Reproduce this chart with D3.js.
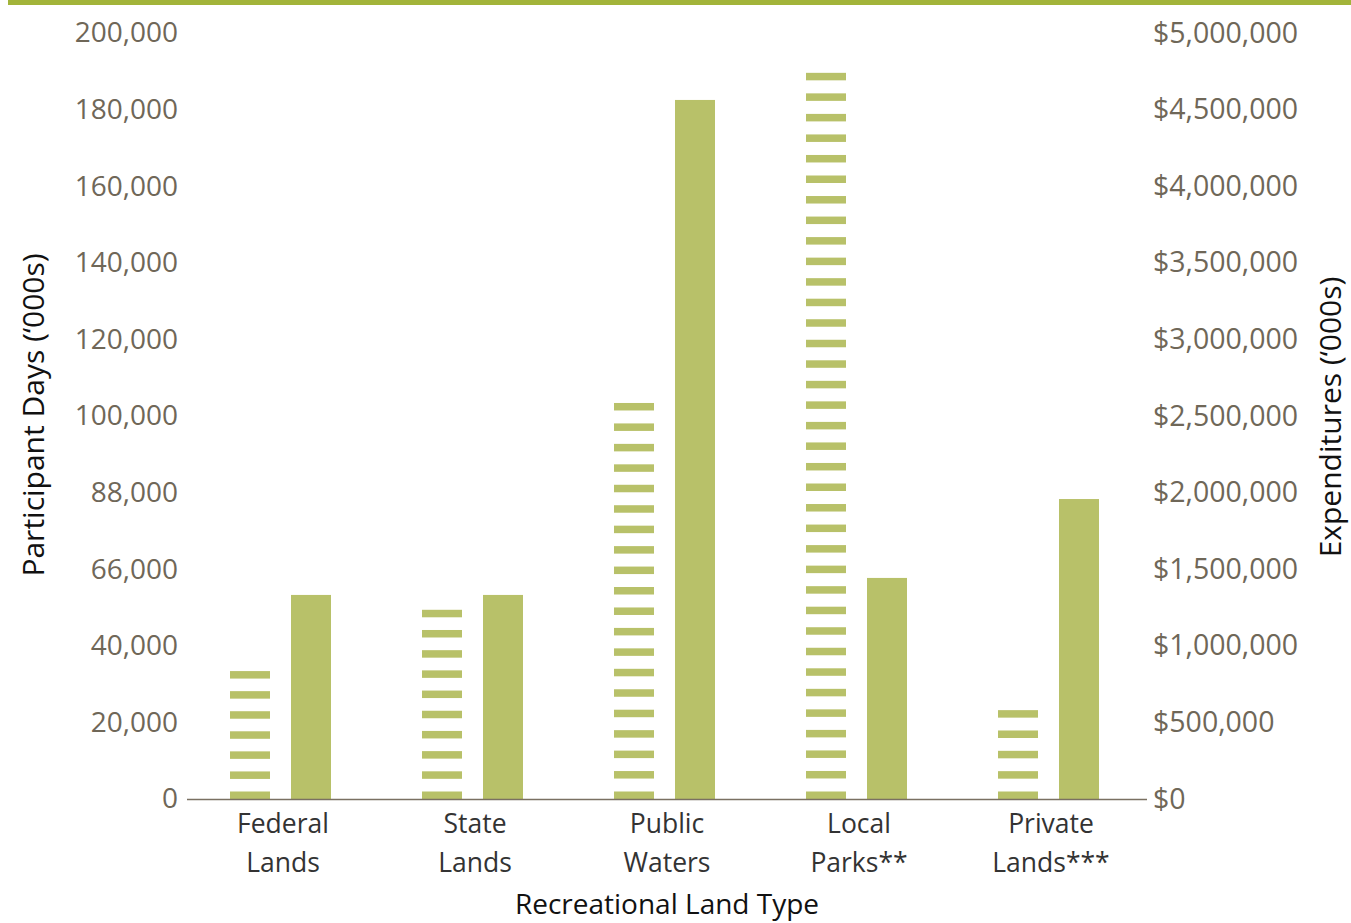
<!DOCTYPE html>
<html>
<head>
<meta charset="utf-8">
<script src="https://cdn.jsdelivr.net/npm/d3@7"></script>
<style>
  body { margin: 0; background: #fff; }
  text { font-family: "Open Sans", "Noto Sans", sans-serif; }
</style>
</head>
<body>
<div id="chart"></div>
<script>
// land types, two-line labels
const categories = ["Federal Lands", "State Lands", "Public Waters", "Local Parks**", "Private Lands***"]
const categoryLines = [["Federal", "Lands"], ["State", "Lands"], ["Public", "Waters"], ["Local", "Parks**"], ["Private", "Lands***"]]
// participant days ('000s), left axis, striped bars
const participantDays = [33400, 49400, 103400, 189600, 23200]
// expenditures ('000s), right axis, solid bars
const expenditures = [1332000, 1332000, 4563000, 1443000, 1958000]
// left axis labels as printed (evenly spaced)
const leftTickLabels = ["0", "20,000", "40,000", "66,000", "88,000", "100,000", "120,000", "140,000", "160,000", "180,000", "200,000"]
const rightTicks = [0, 500000, 1000000, 1500000, 2000000, 2500000, 3000000, 3500000, 4000000, 4500000, 5000000]

const width = 1351
const height = 923
const margin = {top: 33, right: 204, bottom: 124, left: 187}
const barColor = "#b8c169"
const tickColor = "#6f6758"

const svg = d3.select("#chart")
    .append("svg")
    .attr("width", width)
    .attr("height", height)
    .attr("viewBox", [0, 0, width, height])

const x = d3.scaleBand()
    .domain(categories)
    .range([margin.left, width - margin.right])

const yLeft = d3.scaleLinear()
    .domain([0, 200000])
    .range([height - margin.bottom, margin.top])

const yRight = d3.scaleLinear()
    .domain([0, 5000000])
    .range([height - margin.bottom, margin.top])

// tick positions of the printed left labels
const yLabel = d3.scalePoint()
    .domain(leftTickLabels)
    .range([height - margin.bottom, margin.top])

// top rule
svg.append("rect")
    .attr("x", 8)
    .attr("y", 0)
    .attr("width", width - 8)
    .attr("height", 5)
    .attr("fill", "#a2b43a")

// left axis labels
svg.append("g")
    .attr("transform", `translate(${margin.left},0)`)
    .call(d3.axisLeft(yLabel).tickSize(0).tickPadding(9))
    .call(g => g.select(".domain").remove())
    .call(g => g.selectAll("text")
        .attr("fill", tickColor)
        .attr("font-size", 28)
        .attr("font-family", "'Open Sans', sans-serif"))

// right axis labels
svg.append("g")
    .attr("transform", `translate(${width - margin.right},0)`)
    .call(d3.axisRight(yRight).tickValues(rightTicks).tickSize(0).tickPadding(6)
        .tickFormat(d => "$" + d3.format(",")(d)))
    .call(g => g.select(".domain").remove())
    .call(g => g.selectAll("text")
        .attr("fill", tickColor)
        .attr("font-size", 28.5)
        .attr("font-family", "'Open Sans', sans-serif"))

const barW = 40
const stripeH = 7.5
const stripePeriod = 20.4

// striped bars: participant days
const striped = svg.append("g")
    .selectAll("g")
    .data(categories.map((c, i) => ({key: c, value: participantDays[i]})))
    .join("g")

striped.each(function (d) {
    const top = yLeft(d.value)
    const bottom = yLeft(0)
    const h = bottom - top
    const n = Math.max(1, Math.round((h - stripeH) / stripePeriod))
    const step = (h - stripeH) / n
    d3.select(this)
        .selectAll("rect")
        .data(d3.range(n + 1))
        .join("rect")
        .attr("x", x(d.key) + x.bandwidth() / 2 - 53)
        .attr("width", barW)
        .attr("y", j => top + j * step)
        .attr("height", stripeH)
        .attr("fill", barColor)
})

// solid bars: expenditures
svg.append("g")
    .selectAll("rect")
    .data(categories.map((c, i) => ({key: c, value: expenditures[i]})))
    .join("rect")
    .attr("x", d => x(d.key) + x.bandwidth() / 2 + 8)
    .attr("width", barW)
    .attr("y", d => yRight(d.value))
    .attr("height", d => yRight(0) - yRight(d.value))
    .attr("fill", barColor)

// baseline
svg.append("line")
    .attr("x1", margin.left)
    .attr("x2", width - margin.right)
    .attr("y1", yLeft(0) + 0.5)
    .attr("y2", yLeft(0) + 0.5)
    .attr("stroke", "#7a7062")
    .attr("stroke-width", 1.5)

// category labels
const catText = svg.append("g")
    .selectAll("text")
    .data(categories.map((c, i) => ({key: c, lines: categoryLines[i]})))
    .join("text")
    .attr("x", d => x(d.key) + x.bandwidth() / 2)
    .attr("y", height - margin.bottom + 34)
    .attr("text-anchor", "middle")
    .attr("font-size", 26.5)
    .attr("fill", "#333")

catText.selectAll("tspan")
    .data(d => d.lines)
    .join("tspan")
    .attr("x", function () { return d3.select(this.parentNode).attr("x") })
    .attr("dy", (d, i) => i === 0 ? 0 : 39)
    .text(d => d)

// axis titles
svg.append("text")
    .attr("x", (margin.left + width - margin.right) / 2)
    .attr("y", 914)
    .attr("text-anchor", "middle")
    .attr("font-size", 28)
    .attr("fill", "#111")
    .text("Recreational Land Type")

svg.append("text")
    .attr("transform", `translate(44,415) rotate(-90)`)
    .attr("text-anchor", "middle")
    .attr("font-size", 30)
    .attr("fill", "#111")
    .text("Participant Days (\u2018000s)")

svg.append("text")
    .attr("transform", `translate(1341,417) rotate(-90)`)
    .attr("text-anchor", "middle")
    .attr("font-size", 30)
    .attr("fill", "#111")
    .text("Expenditures (\u2018000s)")
</script>
</body>
</html>
